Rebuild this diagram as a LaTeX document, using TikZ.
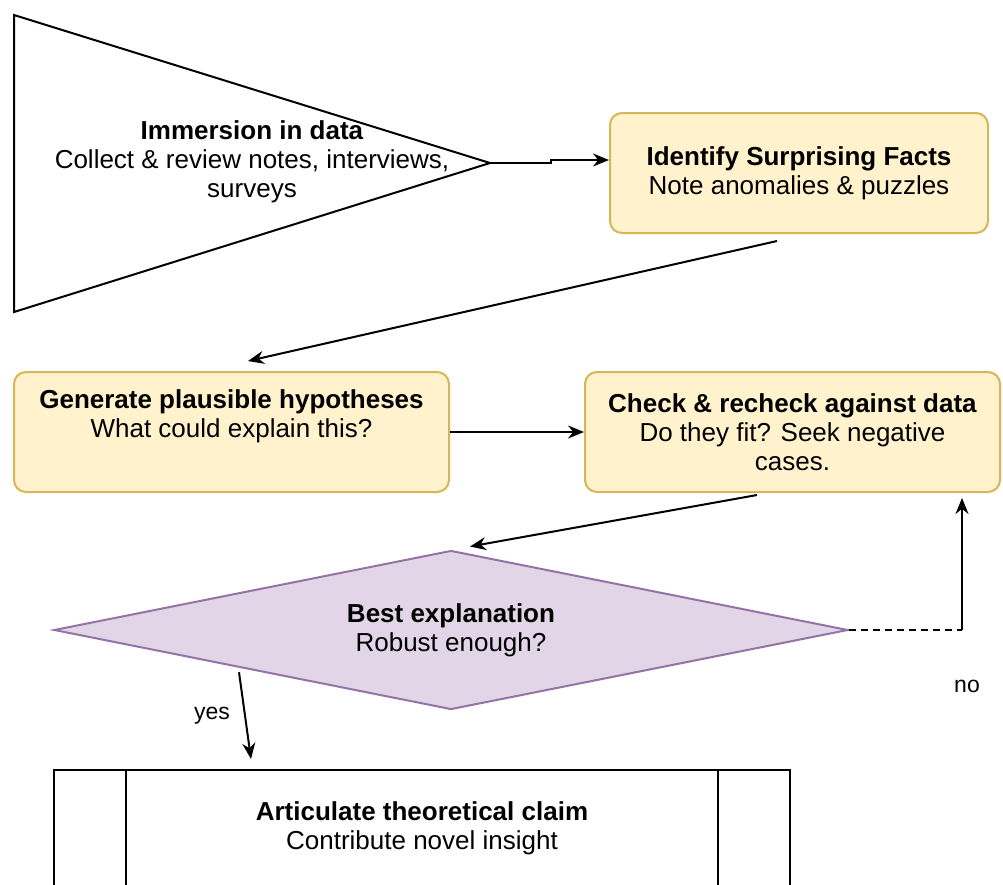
\documentclass[tikz,border=0pt]{standalone}
\usepackage{fontspec}
\setmainfont{Liberation Sans}
\usetikzlibrary{shapes.geometric,arrows.meta}
\definecolor{yfill}{HTML}{FFF2CC}
\definecolor{ydraw}{HTML}{D6B656}
\definecolor{pfill}{HTML}{E1D5E7}
\definecolor{pdraw}{HTML}{9673A6}
\begin{document}
\begin{tikzpicture}[x=1pt,y=-1pt,
  txt/.style={font=\fontsize{26}{29}\selectfont, align=center},
  ybox/.style={draw=ydraw, fill=yfill, line width=2pt, rounded corners=12pt, txt, inner sep=0pt},
  conn/.style={line width=2pt, -{Stealth[length=16pt,width=13pt]}},
  lbl/.style={font=\fontsize{23}{25}\selectfont}]
\clip (0,0) rectangle (1003,884);
\fill[white] (0,0) rectangle (1003,884);
% triangle
\coordinate (t1) at (14,15);
\coordinate (t2) at (14,312);
\coordinate (apex) at (490,163);
\draw[line width=2pt, fill=white] (t1) -- (apex) -- (t2) -- cycle;
\node[txt] (imm) at (252,162) {\textbf{Immersion in data}\\Collect \& review notes, interviews,\\surveys};
% boxes
\node[ybox, minimum width=378pt, minimum height=120pt] (ident) at (799,173)
  {\textbf{Identify Surprising Facts}\\Note anomalies \& puzzles};
\node[ybox, minimum width=435pt, minimum height=120pt] (gen) at (231.5,432)
  {\textbf{Generate plausible hypotheses}\\What could explain this?\\\strut};
\node[ybox, minimum width=415pt, minimum height=120pt] (check) at (792.5,432)
  {\textbf{Check \& recheck against data}\\Do they fit? Seek negative\\cases.};
\node[diamond, draw=pdraw, fill=pfill, line width=2pt, minimum width=794pt, minimum height=159pt,
  aspect=5, inner sep=0pt, txt] (best) at (451,630)
  {\textbf{Best explanation}\\Robust enough?};
\node[draw, line width=2pt, fill=white, minimum width=736pt, minimum height=116pt, txt] (claim) at (422,828)
  {\textbf{Articulate theoretical claim}\\Contribute novel insight};
\draw[line width=2pt] ([xshift=73pt]claim.north west) -- ([xshift=73pt]claim.south west);
\draw[line width=2pt] ([xshift=-73pt]claim.north east) -- ([xshift=-73pt]claim.south east);
% connectors
\coordinate (jog) at (551,163);
\draw[conn] (apex) -- (jog) -- ++(0,-3) -- (ident.west |- 0,160);
\draw[conn] ([shift={(-22,7)}]ident.south) -- ([shift={(16.5,-10)}]gen.north);
\draw[conn] (gen.east) -- (check.west);
\draw[conn] ([shift={(-35.5,2)}]check.south) -- ([shift={(19,-3)}]best.north);
\coordinate (corner) at (962,630);
\draw[line width=2pt, dash pattern=on 7pt off 5pt] (best.east) -- (corner);
\draw[conn] (corner) -- ([yshift=-5pt]corner |- check.south);
\node[lbl] (no) at (967,686) {no};
\draw[conn] ([shift={(-13,2)}]best.south west) -- ([shift={(198,-10)}]claim.north west);
\node[lbl] (yes) at (212,716) {yes};
\end{tikzpicture}
\end{document}
